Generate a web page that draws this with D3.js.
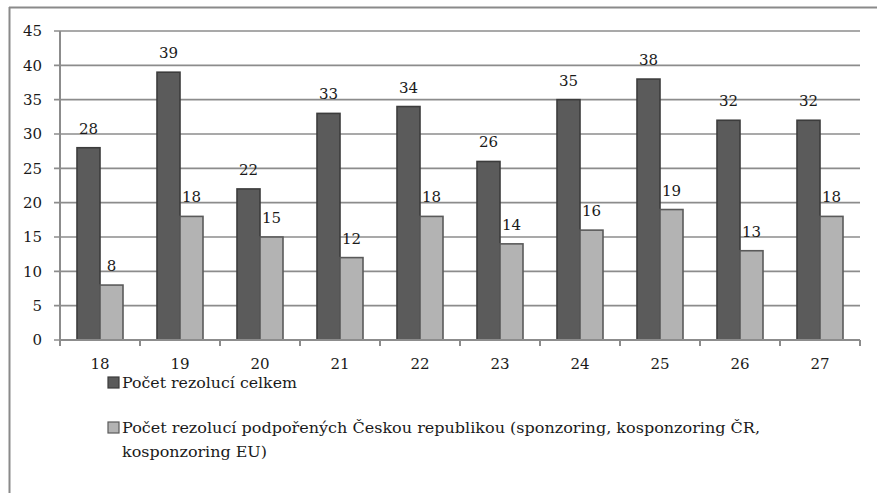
<!DOCTYPE html>
<html>
<head>
<meta charset="utf-8">
<script src="https://cdn.jsdelivr.net/npm/d3@7"></script>
<style>
  body { margin: 0; background: #fff; }
  svg text { font-family: "DejaVu Serif", "Liberation Serif", serif; fill: #1a1a1a; }
</style>
</head>
<body>
<div id="chart"></div>
<script>
let w = 877,
    h = 493;

// sessions (zasedání)
let categories = ["18", "19", "20", "21", "22", "23", "24", "25", "26", "27"];
let totalResolutions = [28, 39, 22, 33, 34, 26, 35, 38, 32, 32];
let supportedResolutions = [8, 18, 15, 12, 18, 14, 16, 19, 13, 18];
let yTicks = [0, 5, 10, 15, 20, 25, 30, 35, 40, 45];
let seriesNames = ["Počet rezolucí celkem",
  "Počet rezolucí podpořených Českou republikou (sponzoring, kosponzoring ČR,|kosponzoring EU)"];
// widths of the legend lines as they appear in the picture
let legendWidths = [[175], [638, 145]];

let plot = { left: 60, right: 860, top: 31, bottom: 340 };

let svg = d3.select("#chart")
            .append("svg")
            .attr("width", w)
            .attr("height", h);

// frame (only top and left edge are visible)
svg.append("line").attr("x1", 9).attr("x2", w).attr("y1", 7.5).attr("y2", 7.5)
   .style("stroke", "#8a8a8a").style("stroke-width", 2);
svg.append("line").attr("x1", 9.5).attr("x2", 9.5).attr("y1", 7).attr("y2", h)
   .style("stroke", "#8a8a8a").style("stroke-width", 2);

let x0 = d3.scaleBand()
           .domain(categories)
           .range([plot.left, plot.right]);

let x1 = d3.scaleBand()
           .domain([0, 1])
           .range([17, x0.bandwidth() - 17]);

let y = d3.scaleLinear()
          .domain([0, 45])
          .range([plot.bottom, plot.top]);

// gridlines
svg.append("g")
   .selectAll("line")
   .data(yTicks)
   .enter()
   .append("line")
   .attr("x1", plot.left - 6)
   .attr("x2", plot.right)
   .attr("y1", d => y(d))
   .attr("y2", d => y(d))
   .style("stroke", "#8c8c8c")
   .style("stroke-width", 1.6);

// y labels
svg.append("g")
   .selectAll("text")
   .data(yTicks)
   .enter()
   .append("text")
   .attr("x", 42)
   .attr("y", d => y(d))
   .attr("dy", "0.36em")
   .attr("text-anchor", "end")
   .style("font-size", "15px")
   .text(d => d);

let series = [
  { values: totalResolutions, fill: "#5b5b5b", stroke: "#3c3c3c" },
  { values: supportedResolutions, fill: "#b3b3b3", stroke: "#5a5a5a" }
];

series.forEach((s, i) => {
  let g = svg.append("g");
  g.selectAll("rect")
   .data(s.values)
   .enter()
   .append("rect")
   .attr("x", (d, j) => x0(categories[j]) + x1(i))
   .attr("y", d => y(d))
   .attr("width", x1.bandwidth())
   .attr("height", d => y(0) - y(d))
   .style("fill", s.fill)
   .style("stroke", s.stroke)
   .style("stroke-width", 1.6);

  g.selectAll("text")
   .data(s.values)
   .enter()
   .append("text")
   .attr("x", (d, j) => x0(categories[j]) + x1(i) + x1.bandwidth() / 2)
   .attr("y", d => y(d) - 14)
   .attr("text-anchor", "middle")
   .style("font-size", "15px")
   .text(d => d);
});

// x axis
svg.append("line")
   .attr("x1", plot.left).attr("x2", plot.right)
   .attr("y1", plot.bottom).attr("y2", plot.bottom)
   .style("stroke", "#8c8c8c").style("stroke-width", 2);
svg.append("line")
   .attr("x1", plot.left).attr("x2", plot.left)
   .attr("y1", plot.top).attr("y2", plot.bottom + 6)
   .style("stroke", "#8c8c8c").style("stroke-width", 2);

svg.append("g")
   .selectAll("line")
   .data(categories.concat(["end"]))
   .enter()
   .append("line")
   .attr("x1", (d, j) => plot.left + j * x0.step())
   .attr("x2", (d, j) => plot.left + j * x0.step())
   .attr("y1", plot.bottom)
   .attr("y2", plot.bottom + 6)
   .style("stroke", "#8c8c8c")
   .style("stroke-width", 2);

svg.append("g")
   .selectAll("text")
   .data(categories)
   .enter()
   .append("text")
   .attr("x", d => x0(d) + x0.bandwidth() / 2)
   .attr("y", 369)
   .attr("text-anchor", "middle")
   .style("font-size", "15px")
   .text(d => d);

// legend
let legendY = [382, 427];
seriesNames.forEach((name, i) => {
  svg.append("rect")
     .attr("x", 108)
     .attr("y", legendY[i] - 5)
     .attr("width", 11)
     .attr("height", 11)
     .style("fill", series[i].fill)
     .style("stroke", series[i].stroke)
     .style("stroke-width", 1.2);
  let t = svg.append("text")
             .attr("x", 122)
             .attr("y", legendY[i] + 6)
             .style("font-size", "15px");
  name.split("|").forEach((line, k) => {
    t.append("tspan")
     .attr("x", 122)
     .attr("dy", k == 0 ? 0 : 24)
     .attr("textLength", legendWidths[i][k])
     .attr("lengthAdjust", "spacingAndGlyphs")
     .text(line);
  });
});
</script>
</body>
</html>
